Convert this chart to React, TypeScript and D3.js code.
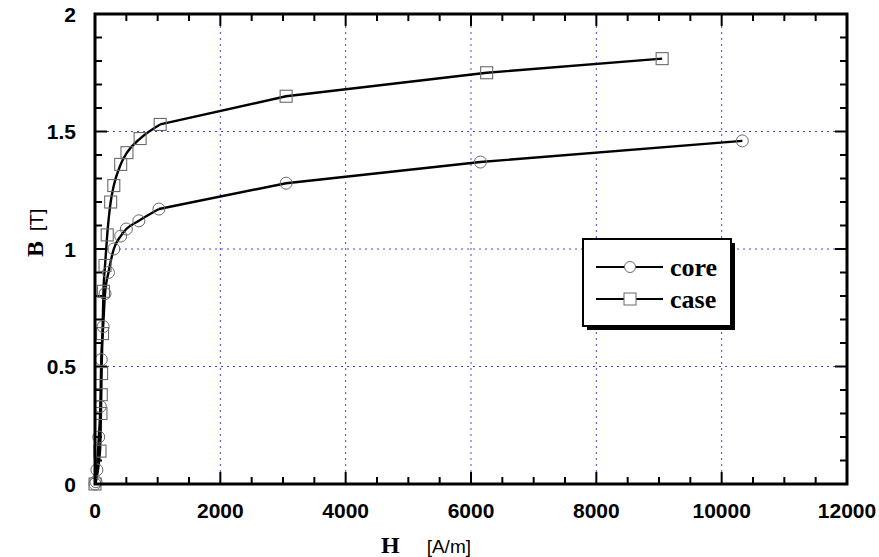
import React from "react";
import * as d3 from "d3";

const coreH = [0, 15, 30, 60, 85, 100, 130, 160, 215, 300, 410, 500, 700, 1020, 3050, 6150, 10330];
const coreB = [0, 0.01, 0.06, 0.2, 0.33, 0.53, 0.67, 0.81, 0.9, 1.0, 1.055, 1.085, 1.12, 1.17, 1.28, 1.37, 1.46];
const caseH = [0, 80, 95, 100, 105, 120, 135, 160, 195, 250, 300, 410, 510, 720, 1040, 3050, 6250, 9050];
const caseB = [0, 0.14, 0.3, 0.38, 0.47, 0.64, 0.82, 0.93, 1.06, 1.2, 1.27, 1.36, 1.41, 1.47, 1.53, 1.65, 1.75, 1.81];
const xTicks = [0, 2000, 4000, 6000, 8000, 10000, 12000];
const yTicks = [0, 0.5, 1, 1.5, 2];
const yTickLabels = ["0", "0.5", "1", "1.5", "2"];
const seriesNames = ["core", "case"];

const W = 879, H = 557;
const L = 95, R = 847, T = 14, B = 484;

export default function App() {
  const x = d3.scaleLinear().domain([0, 12000]).range([L, R]);
  const y = d3.scaleLinear().domain([0, 2]).range([B, T]);
  const line = d3.line<[number, number]>().x(d => x(d[0])).y(d => y(d[1])).curve(d3.curveMonotoneX);
  const core: [number, number][] = coreH.map((h, i) => [h, coreB[i]]);
  const cas: [number, number][] = caseH.map((h, i) => [h, caseB[i]]);
  const minorX = d3.range(0, 12001, 500);
  const minorY = d3.range(0, 2.0001, 0.1);
  const grid = "#4444ee";
  const sans = "'Liberation Sans', Arial, sans-serif";
  const serif = "'Liberation Serif', 'Times New Roman', serif";
  const mk = "#6a6a6a";
  const lx = 583, ly = 239, lw = 148, lh = 87;
  return (
    <svg width={W} height={H} style={{ position: "absolute", left: 0, top: 0, background: "#fff" }}>
      <rect x={0} y={0} width={W} height={H} fill="#fff" />
      {xTicks.slice(1, -1).map(t => (
        <line key={"gx" + t} x1={x(t)} x2={x(t)} y1={T} y2={B} stroke={grid} strokeWidth={1} strokeDasharray="2,4" />
      ))}
      {yTicks.slice(1, -1).map(t => (
        <line key={"gy" + t} x1={L} x2={R} y1={y(t)} y2={y(t)} stroke={grid} strokeWidth={1} strokeDasharray="2,4" />
      ))}
      {minorX.map(t => {
        const major = t % 2000 === 0;
        const len = major ? 12 : 7;
        return (
          <g key={"tx" + t}>
            <line x1={x(t)} x2={x(t)} y1={B} y2={B - len} stroke="#000" strokeWidth={2} />
            <line x1={x(t)} x2={x(t)} y1={T} y2={T + len} stroke="#000" strokeWidth={2} />
          </g>
        );
      })}
      {minorY.map((t, i) => {
        const major = i % 5 === 0;
        const len = major ? 12 : 7;
        return (
          <g key={"ty" + i}>
            <line x1={L} x2={L + len} y1={y(t)} y2={y(t)} stroke="#000" strokeWidth={2} />
            <line x1={R} x2={R - len} y1={y(t)} y2={y(t)} stroke="#000" strokeWidth={2} />
          </g>
        );
      })}
      <path d={line(core.slice(0, 14)) || ""} fill="none" stroke="#000" strokeWidth={2.4} strokeLinejoin="round" />
      <path d={d3.line<[number, number]>().x(d => x(d[0])).y(d => y(d[1]))(core.slice(13)) || ""} fill="none" stroke="#000" strokeWidth={2.4} strokeLinejoin="round" />
      <path d={line(cas.slice(0, 15)) || ""} fill="none" stroke="#000" strokeWidth={2.4} strokeLinejoin="round" />
      <path d={d3.line<[number, number]>().x(d => x(d[0])).y(d => y(d[1]))(cas.slice(14)) || ""} fill="none" stroke="#000" strokeWidth={2.4} strokeLinejoin="round" />
      {core.map((d, i) => (
        <circle key={"c" + i} cx={x(d[0])} cy={y(d[1])} r={6} fill="none" stroke={mk} strokeWidth={1} />
      ))}
      {cas.map((d, i) => (
        <rect key={"s" + i} x={x(d[0]) - 6} y={y(d[1]) - 6} width={12} height={12} fill="none" stroke={mk} strokeWidth={1.1} />
      ))}
      <rect x={L} y={T} width={R - L} height={B - T} fill="none" stroke="#000" strokeWidth={3} />
      {xTicks.map(t => (
        <text key={"lx" + t} x={x(t)} y={518} textAnchor="middle" fontFamily={sans} fontWeight="bold" fontSize={21}>{t}</text>
      ))}
      {yTicks.map((t, i) => (
        <text key={"ly" + t} x={76} y={y(t) + 7.5} textAnchor="end" fontFamily={sans} fontWeight="bold" fontSize={21}>{yTickLabels[i]}</text>
      ))}
      <text x={381} y={553} textAnchor="start">
        <tspan fontFamily={serif} fontWeight="bold" fontSize={24}>H</tspan>
        <tspan fontFamily={sans} fontSize={19} dx={27}>[A/m]</tspan>
      </text>
      <text transform={`translate(43,${257}) rotate(-90)`} textAnchor="start">
        <tspan fontFamily={serif} fontWeight="bold" fontSize={24}>B</tspan>
        <tspan fontFamily={sans} fontSize={19} dx={10}>[T]</tspan>
      </text>
      <rect x={lx + 4} y={ly + 4} width={lw} height={lh} fill="#000" />
      <rect x={lx} y={ly} width={lw} height={lh} fill="#fff" stroke="#000" strokeWidth={2} />
      {seriesNames.map((n, i) => {
        const yy = ly + 28 + i * 32;
        return (
          <g key={n}>
            <line x1={lx + 13} x2={lx + 80} y1={yy} y2={yy} stroke="#000" strokeWidth={2} />
            {i === 0 ? (
              <circle cx={lx + 47} cy={yy} r={5.5} fill="#fff" stroke={mk} strokeWidth={1} />
            ) : (
              <rect x={lx + 41} y={yy - 6} width={12} height={12} fill="#fff" stroke={mk} strokeWidth={1} />
            )}
            <text x={lx + 87} y={yy + 9} fontFamily={serif} fontWeight="bold" fontSize={26}>{n}</text>
          </g>
        );
      })}
    </svg>
  );
}
